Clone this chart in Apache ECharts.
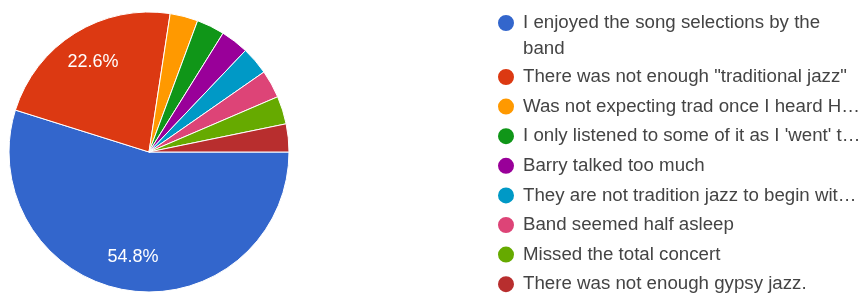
<!DOCTYPE html>
<html>
<head>
<meta charset="utf-8">
<script src="https://cdn.jsdelivr.net/npm/echarts@6/dist/echarts.min.js"></script>
<style>
  html, body { margin: 0; padding: 0; background: #fff; }
  #pie { width: 860px; height: 295px; }
</style>
</head>
<body>
<div id="pie"></div>
<script>
var answers = [
    'I enjoyed the song selections by the band',
    'There was not enough "traditional jazz"',
    'Was not expecting trad once I heard H\u2026',
    'I only listened to some of it as I \'went\' t\u2026',
    'Barry talked too much',
    'They are not tradition jazz to begin wit\u2026',
    'Band seemed half asleep',
    'Missed the total concert',
    'There was not enough gypsy jazz.'
];
var counts = [17, 7, 1, 1, 1, 1, 1, 1, 1];
var colors = ['#3366cc', '#dc3912', '#ff9900', '#109618', '#990099',
              '#0099c6', '#dd4477', '#66aa00', '#b82e2e'];

var total = counts.reduce(function (a, b) { return a + b; }, 0);
var pieData = answers.map(function (name, i) {
    return { name: name, value: counts[i] };
});

var myChart = echarts.init(document.getElementById('pie'));

var legendText = {
    fontFamily: 'Liberation Sans, Arial, sans-serif',
    fontSize: 18.7,
    color: '#444'
};

option = {
    animation: false,
    color: colors,
    legend: [{
        // first answer wraps onto two lines; the empty first line keeps
        // the icon level with the first line of text
        orient: 'vertical',
        left: 496,
        top: -16,
        padding: 0,
        icon: 'circle',
        itemWidth: 18,
        itemHeight: 18,
        itemGap: 0,
        data: [answers[0]],
        formatter: function (name) {
            return '\n' + name.replace(' band', '\nband');
        },
        textStyle: Object.assign({}, legendText, {
            lineHeight: 26,
            padding: [0, 0, 0, 3]
        })
    }, {
        orient: 'vertical',
        left: 496,
        top: 67,
        height: 240,
        padding: 0,
        icon: 'circle',
        itemWidth: 18,
        itemHeight: 18,
        itemGap: 9.6,
        data: answers.slice(1),
        textStyle: Object.assign({}, legendText, {
            lineHeight: 18,
            padding: [0, 0, 0, 3]
        })
    }],
    series: [{
        name: 'answers',
        type: 'pie',
        center: [149, 152],
        radius: [0, 140],
        startAngle: 0,
        clockwise: true,
        data: pieData,
        itemStyle: { borderColor: '#fff', borderWidth: 1 },
        label: { show: false },
        labelLine: { show: false },
        emphasis: { disabled: true }
    }, {
        // transparent copy, only used to place the percentage labels further out
        name: 'labels',
        type: 'pie',
        center: [149, 152],
        radius: [0, 206],
        startAngle: 0,
        clockwise: true,
        silent: true,
        minShowLabelAngle: 30,
        data: pieData,
        itemStyle: { color: 'rgba(0,0,0,0)', borderWidth: 0 },
        label: {
            show: true,
            position: 'inside',
            formatter: function (p) {
                return (p.value / total * 100).toFixed(1) + '%';
            },
            color: '#fff',
            fontFamily: 'Liberation Sans, Arial, sans-serif',
            fontSize: 18
        },
        labelLine: { show: false },
        emphasis: { disabled: true }
    }]
};

myChart.setOption(option);
</script>
</body>
</html>
